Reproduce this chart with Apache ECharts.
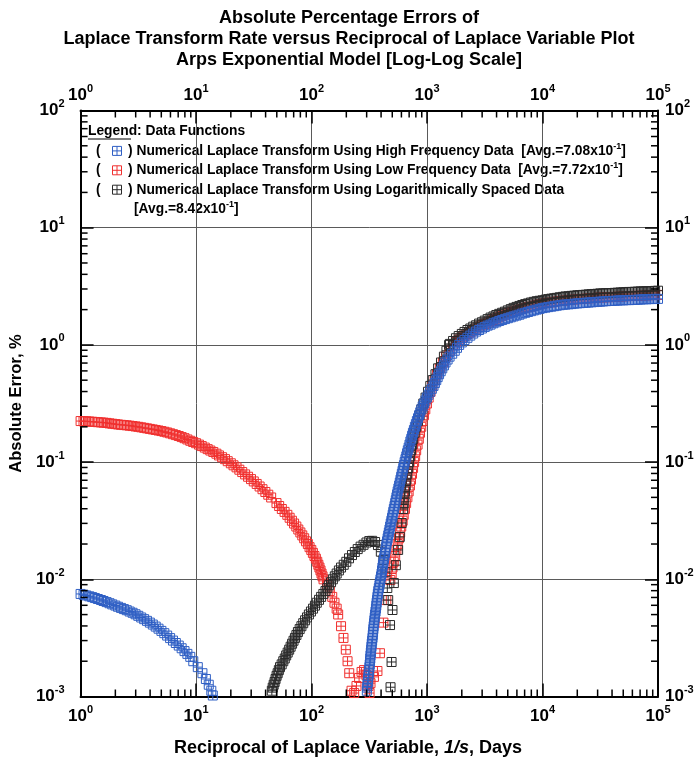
<!DOCTYPE html>
<html>
<head>
<meta charset="utf-8">
<script src="https://cdn.jsdelivr.net/npm/echarts@6/dist/echarts.min.js"></script>
<style>
  html, body { margin: 0; padding: 0; background: #ffffff; }
  #chart { width: 698px; height: 765px; }
</style>
</head>
<body>
<div id="chart"></div>
<script>
// Numerical Laplace transform rate errors, Arps exponential model.
// x = 1/s (days), y = absolute percentage error (%).

// ---- High frequency data ----
const hfEarlyX = [
  1, 1.06, 1.12, 1.19, 1.26, 1.33, 1.41, 1.50, 1.58, 1.68, 1.78, 1.88, 2.00, 2.11, 2.24, 2.37, 2.51, 2.66, 2.82, 2.99,
  3.16, 3.35, 3.55, 3.76, 3.98, 4.22, 4.47, 4.73, 5.01, 5.31, 5.62, 5.96, 6.31, 6.68, 7.08, 7.50, 7.94, 8.41, 8.91,
  9.46, 10.35, 11.35, 12.16, 12.88, 13.55, 13.96
];
const hfEarlyY = [
  0.00750, 0.00739, 0.00728, 0.00716, 0.00705, 0.00692, 0.00679, 0.00666, 0.00653, 0.00639, 0.00625, 0.00611, 0.00597, 0.00583, 0.00570, 0.00557, 0.00545, 0.00531, 0.00518, 0.00503,
  0.00488, 0.00472, 0.00457, 0.00442, 0.00427, 0.00411, 0.00395, 0.00379, 0.00363, 0.00347, 0.00331, 0.00315, 0.00300, 0.00286, 0.00272, 0.00258, 0.00244, 0.00231, 0.00218,
  0.00200, 0.00178, 0.00158, 0.00141, 0.00126, 0.00112, 0.00102
];
const hfRiseX = [
  301, 303, 305, 307, 309, 311, 313, 315, 317, 319, 321, 322.5, 324, 326, 328, 330, 332, 334.5, 337, 339,
  341, 343, 345, 347.5, 350, 352.5, 355, 358, 361, 363.5, 366, 369, 372, 375, 378, 382.5, 387, 391, 395, 399.5,
  404, 407.5, 411, 415, 419, 423.5, 428, 432.5, 437, 441, 445, 450.5, 456, 461.5, 467, 473, 479, 485, 491, 497.5,
  504, 510, 516, 523, 530, 536.5, 543, 550, 557, 565, 573, 581, 589, 597, 605, 613.5, 622, 631, 640, 650.5,
  661, 671.5, 682, 693.5, 705, 717.5, 730, 742.5, 755, 770, 785, 801, 817, 835, 853, 873, 893, 917, 942, 970,
  998, 1031, 1064, 1101, 1138, 1170, 1202, 1236, 1271, 1313, 1355, 1400, 1445, 1506, 1567, 1652, 1738, 1817, 1897
];
const hfRiseY = [
  0.00112, 0.00119, 0.00126, 0.00133, 0.00141, 0.00150, 0.00158, 0.00168, 0.00178, 0.00188, 0.00200, 0.00211, 0.00224, 0.00237, 0.00251, 0.00266, 0.00282, 0.00299, 0.00316, 0.00335,
  0.00355, 0.00376, 0.00398, 0.00422, 0.00447, 0.00473, 0.00501, 0.00531, 0.00562, 0.00596, 0.00631, 0.00668, 0.00708, 0.00750, 0.00794, 0.00841, 0.00891, 0.00944, 0.0100, 0.0106,
  0.0112, 0.0119, 0.0126, 0.0133, 0.0141, 0.0150, 0.0158, 0.0168, 0.0178, 0.0188, 0.0200, 0.0211, 0.0224, 0.0237, 0.0251, 0.0266, 0.0282, 0.0299, 0.0316, 0.0335,
  0.0355, 0.0376, 0.0398, 0.0422, 0.0447, 0.0473, 0.0501, 0.0531, 0.0562, 0.0596, 0.0631, 0.0668, 0.0708, 0.0750, 0.0794, 0.0841, 0.0891, 0.0944, 0.100, 0.106,
  0.112, 0.119, 0.126, 0.133, 0.141, 0.150, 0.158, 0.168, 0.178, 0.188, 0.200, 0.211, 0.224, 0.237, 0.251, 0.266, 0.282, 0.299, 0.316, 0.335,
  0.355, 0.376, 0.398, 0.422, 0.447, 0.473, 0.501, 0.531, 0.562, 0.596, 0.631, 0.668, 0.708, 0.750, 0.794, 0.841, 0.891, 0.944, 1.00
];
const hfLateX = [
  2000, 2110, 2240, 2370, 2510, 2660, 2820, 2990, 3160, 3350, 3550, 3760, 3980, 4220, 4470, 4730, 5010, 5310, 5620, 5960,
  6310, 6680, 7080, 7500, 7940, 8410, 8910, 9440, 10000, 10600, 11200, 11900, 12600, 13300, 14100, 15000, 15800, 16800, 17800, 18800,
  20000, 21100, 22400, 23700, 25100, 26600, 28200, 29900, 31600, 33500, 35500, 37600, 39800, 42200, 44700, 47300, 50100, 53100, 56200, 59600,
  63100, 66800, 70800, 75000, 79400, 84100, 89100, 94400, 100000
];
const hfLateY = [
  1.05, 1.10, 1.15, 1.20, 1.25, 1.30, 1.34, 1.38, 1.42, 1.46, 1.49, 1.53, 1.56, 1.60, 1.63, 1.66, 1.69, 1.72, 1.75, 1.78,
  1.81, 1.85, 1.88, 1.91, 1.94, 1.97, 2.00, 2.03, 2.06, 2.08, 2.10, 2.12, 2.14, 2.16, 2.18, 2.20, 2.21, 2.22, 2.23, 2.25,
  2.26, 2.27, 2.28, 2.29, 2.30, 2.31, 2.32, 2.33, 2.34, 2.35, 2.36, 2.37, 2.37, 2.38, 2.39, 2.40, 2.40, 2.41, 2.41, 2.42,
  2.42, 2.43, 2.44, 2.45, 2.45, 2.46, 2.46, 2.47, 2.47
];

// ---- Low frequency data ----
const lfEarlyX = [
  1, 1.06, 1.12, 1.19, 1.26, 1.33, 1.41, 1.50, 1.58, 1.68, 1.78, 1.88, 2.00, 2.11, 2.24, 2.37, 2.51, 2.66, 2.82, 2.99,
  3.16, 3.35, 3.55, 3.76, 3.98, 4.22, 4.47, 4.73, 5.01, 5.31, 5.62, 5.96, 6.31, 6.68, 7.08, 7.50, 7.94, 8.41, 8.91, 9.44,
  10, 10.6, 11.2, 11.9, 12.6, 13.3, 14.1, 15.0, 15.8, 16.8, 17.8, 18.8, 20, 21.1, 22.4, 23.7, 25.1, 26.6, 28.2, 29.9,
  31.6, 33.5, 35.5, 37.6, 39.8, 42.2, 44.7
];
const lfEarlyY = [
  0.224, 0.223, 0.223, 0.222, 0.221, 0.220, 0.219, 0.218, 0.217, 0.216, 0.214, 0.2125, 0.211, 0.2095, 0.208, 0.207, 0.206, 0.2045, 0.203, 0.2015,
  0.200, 0.198, 0.196, 0.194, 0.192, 0.190, 0.188, 0.186, 0.184, 0.1815, 0.179, 0.176, 0.173, 0.170, 0.167, 0.1635, 0.160, 0.156, 0.152, 0.1485,
  0.145, 0.141, 0.137, 0.133, 0.129, 0.1255, 0.122, 0.118, 0.114, 0.110, 0.106, 0.1018, 0.0977, 0.0939, 0.0902, 0.0861, 0.0822, 0.0785, 0.0750, 0.0716,
  0.0684, 0.0651, 0.0619, 0.0587, 0.0556, 0.0527, 0.0499
];
const lfFallX = [
  49.7, 52.4, 55.3, 58.4, 61.7, 64.6, 67.6, 70.6, 73.8, 76.8, 80.0, 83.1, 86.3, 89.5, 92.9, 96.1, 99.5, 102.7, 106, 109,
  112, 114.5, 117, 119.5, 122, 124.5, 127, 136, 144, 151, 158, 165, 170, 180, 189, 198, 205, 212, 222,
  234, 245, 258, 271, 285, 299, 311
];
const lfFallY = [
  0.0447, 0.0422, 0.0398, 0.0376, 0.0355, 0.0335, 0.0316, 0.0299, 0.0282, 0.0266, 0.0251, 0.0237, 0.0224, 0.0211, 0.0200, 0.0188, 0.0178, 0.0168, 0.0158, 0.0150,
  0.0141, 0.0133, 0.0126, 0.0119, 0.0112, 0.0106, 0.0100, 0.00891, 0.00794, 0.00708, 0.00631, 0.00562, 0.00501, 0.00398, 0.00316, 0.00251, 0.00200, 0.00158, 0.00112,
  0.00107, 0.00123, 0.00144, 0.00162, 0.00168, 0.00152, 0.00123
];
const lfRiseX = [
  318, 324, 347, 372, 391, 419, 444, 481,
  494, 502, 515, 530, 543, 557, 571, 585, 598, 615, 628, 644, 659, 676, 693, 711, 726, 741, 757, 773, 789, 805,
  828, 849, 869, 891, 914, 940, 966, 998, 1033, 1072, 1112, 1164, 1222, 1291, 1371, 1459, 1560, 1675
];
const lfRiseY = [
  0.00107, 0.00130, 0.00147, 0.00165, 0.00234, 0.00427, 0.00665, 0.00986,
  0.0112, 0.0126, 0.0141, 0.0158, 0.0178, 0.0200, 0.0224, 0.0251, 0.0282, 0.0316, 0.0355, 0.0398, 0.0447, 0.0501, 0.0562, 0.0631, 0.0708, 0.0794, 0.0891, 0.100, 0.112, 0.126,
  0.141, 0.158, 0.178, 0.200, 0.224, 0.251, 0.282, 0.316, 0.355, 0.398, 0.447, 0.501, 0.562, 0.631, 0.708, 0.794, 0.891, 1.00
];
const lfLateX = [
  1780, 1880, 2000, 2110, 2240, 2370, 2510, 2660, 2820, 2990, 3160, 3350, 3550, 3760, 3980, 4220, 4470, 4730, 5010, 5310,
  5620, 5960, 6310, 6680, 7080, 7500, 7940, 8410, 8910, 9440, 10000, 10600, 11200, 11900, 12600, 13300, 14100, 15000, 15800, 16800,
  17800, 18800, 20000, 21100, 22400, 23700, 25100, 26600, 28200, 29900, 31600, 33500, 35500, 37600, 39800, 42200, 44700, 47300, 50100, 53100,
  56200, 59600, 63100, 66800, 70800, 75000, 79400, 84100, 89100, 94400, 100000
];
const lfLateY = [
  1.06, 1.11, 1.16, 1.20, 1.24, 1.28, 1.33, 1.38, 1.43, 1.47, 1.51, 1.55, 1.59, 1.63, 1.68, 1.72, 1.77, 1.81, 1.86, 1.89,
  1.93, 1.96, 2.00, 2.03, 2.07, 2.10, 2.12, 2.16, 2.20, 2.22, 2.25, 2.27, 2.29, 2.30, 2.32, 2.35, 2.37, 2.38, 2.39, 2.41,
  2.42, 2.44, 2.45, 2.46, 2.47, 2.48, 2.50, 2.50, 2.51, 2.53, 2.54, 2.54, 2.55, 2.55, 2.56, 2.57, 2.58, 2.58, 2.59, 2.60,
  2.61, 2.61, 2.62, 2.62, 2.63, 2.63, 2.64, 2.65, 2.66, 2.66, 2.67
];

// ---- Logarithmically spaced data ----
const lsEarlyX = [
  45.3, 46.1, 47.0, 47.9, 48.8, 49.8, 50.9, 52.1, 53.3, 55.1, 56.9, 58.6, 60.3, 62.1, 64.0, 65.9, 67.8, 69.8, 71.8, 74.0,
  76.2, 78.9, 81.7, 84.7, 87.9, 91.3, 94.8, 98.8, 103, 107, 111, 116, 121, 126.5, 132, 137, 142, 147.5, 153, 159,
  165, 172.5, 180, 190, 200, 211, 224, 237, 251, 266, 282, 299, 316, 335, 355, 376, 398
];
const lsEarlyY = [
  0.00112, 0.00119, 0.00126, 0.00133, 0.00141, 0.00150, 0.00158, 0.00168, 0.00178, 0.00188, 0.00200, 0.00211, 0.00224, 0.00237, 0.00251, 0.00266, 0.00282, 0.00299, 0.00316, 0.00335,
  0.00355, 0.00376, 0.00398, 0.00422, 0.00447, 0.00473, 0.00501, 0.00531, 0.00562, 0.00596, 0.00631, 0.00668, 0.00708, 0.00750, 0.00794, 0.00841, 0.00891, 0.00944, 0.0100, 0.0106,
  0.0112, 0.0119, 0.0126, 0.0133, 0.0141, 0.0151, 0.0161, 0.0171, 0.0181, 0.0190, 0.0197, 0.0206, 0.0212, 0.0213, 0.0208, 0.0196, 0.0172
];
const lsDipX = [419, 436, 453, 461, 478, 483, 493, 502, 516, 537, 562, 581, 603, 621];
const lsDipY = [0.0146, 0.0115, 0.00843, 0.00665, 0.00407, 0.00120, 0.00197, 0.00547, 0.00929, 0.0132, 0.0178, 0.0230, 0.0302, 0.0398];
const lsRiseX = [
  628, 637, 644, 653, 661, 673, 686, 697, 710, 726, 743, 759, 782, 805, 834, 861, 893, 929, 971, 1019,
  1067, 1122, 1183, 1247, 1321, 1400, 1472, 1552
];
const lsRiseY = [
  0.0447, 0.0501, 0.0562, 0.0631, 0.0708, 0.0794, 0.0891, 0.100, 0.112, 0.126, 0.141, 0.158, 0.178, 0.200, 0.224, 0.251, 0.282, 0.316, 0.355, 0.398,
  0.447, 0.501, 0.562, 0.631, 0.708, 0.794, 0.891, 1.00
];
const lsLateX = [
  1580, 1680, 1780, 1880, 2000, 2110, 2240, 2370, 2510, 2660, 2820, 2990, 3160, 3350, 3550, 3760, 3980, 4220, 4470, 4730,
  5010, 5310, 5620, 5960, 6310, 6680, 7080, 7500, 7940, 8410, 8910, 9440, 10000, 10600, 11200, 11900, 12600, 13300, 14100, 15000,
  15800, 16800, 17800, 18800, 20000, 21100, 22400, 23700, 25100, 26600, 28200, 29900, 31600, 33500, 35500, 37600, 39800, 42200, 44700, 47300,
  50100, 53100, 56200, 59600, 63100, 66800, 70800, 75000, 79400, 84100, 89100, 94400, 100000
];
const lsLateY = [
  1.02, 1.08, 1.14, 1.19, 1.24, 1.29, 1.34, 1.38, 1.43, 1.47, 1.52, 1.56, 1.61, 1.66, 1.71, 1.75, 1.80, 1.84, 1.88, 1.92,
  1.97, 2.02, 2.07, 2.11, 2.15, 2.19, 2.23, 2.26, 2.30, 2.33, 2.36, 2.38, 2.40, 2.43, 2.46, 2.48, 2.50, 2.52, 2.55, 2.57,
  2.59, 2.60, 2.62, 2.63, 2.65, 2.66, 2.67, 2.68, 2.70, 2.71, 2.72, 2.73, 2.75, 2.75, 2.76, 2.76, 2.77, 2.78, 2.79, 2.80,
  2.81, 2.82, 2.83, 2.83, 2.84, 2.85, 2.86, 2.86, 2.87, 2.87, 2.88, 2.89, 2.90
];

// Minor tick positions between the decades
const xMinorTicks = [
  2, 3, 4, 5, 6, 7, 8, 9,
  20, 30, 40, 50, 60, 70, 80, 90,
  200, 300, 400, 500, 600, 700, 800, 900,
  2000, 3000, 4000, 5000, 6000, 7000, 8000, 9000,
  20000, 30000, 40000, 50000, 60000, 70000, 80000, 90000
];
const yMinorTicks = [
  0.002, 0.003, 0.004, 0.005, 0.006, 0.007, 0.008, 0.009,
  0.02, 0.03, 0.04, 0.05, 0.06, 0.07, 0.08, 0.09,
  0.2, 0.3, 0.4, 0.5, 0.6, 0.7, 0.8, 0.9,
  2, 3, 4, 5, 6, 7, 8, 9,
  20, 30, 40, 50, 60, 70, 80, 90
];

const X_MIN = 1, X_MAX = 1e5, Y_MIN = 0.001, Y_MAX = 100;
const FONT = '"Liberation Sans", Arial, Helvetica, sans-serif';

const BLUE = '#2f5fc4';
const RED = '#f0302f';
const BLACK = '#2a2a2a';

const markerPath = 'path://M0,0H10V10H0Z M5,0V10 M0,5H10';

function zip(xs, ys) { return xs.map((x, i) => [x, ys[i]]); }

const powRich = {
  b: { fontFamily: FONT, fontSize: 17, fontWeight: 'bold', color: '#000', lineHeight: 24 },
  s: { fontFamily: FONT, fontSize: 11, fontWeight: 'bold', color: '#000', lineHeight: 12, verticalAlign: 'top' }
};
function powLabel(v) {
  const e = Math.round(Math.log10(v));
  return '{b|10}{s|' + e + '}';
}

function logAxis(isX, position, primary, margin) {
  return {
    type: 'log',
    logBase: 10,
    position: position,
    min: isX ? X_MIN : Y_MIN,
    max: isX ? X_MAX : Y_MAX,
    splitNumber: 5,
    axisLine: { show: true, onZero: false, lineStyle: { color: '#000', width: 2 } },
    axisTick: { show: true, inside: true, length: 13, lineStyle: { color: '#000', width: 1.5 } },
    minorTick: { show: false },
    splitLine: { show: primary, lineStyle: { color: '#5a5a5a', width: 1 } },
    axisLabel: { show: true, margin: margin, formatter: powLabel, rich: powRich, showMinLabel: true, showMaxLabel: true, hideOverlap: false }
  };
}

function scatterSeries(name, segments, color, z) {
  let data = [];
  segments.forEach(seg => { data = data.concat(zip(seg[0], seg[1])); });
  return {
    name: name,
    type: 'scatter',
    xAxisIndex: 0,
    yAxisIndex: 0,
    data: data,
    symbol: markerPath,
    symbolSize: 9,
    z: z,
    itemStyle: { color: 'rgba(0,0,0,0)', borderColor: color, borderWidth: 1, opacity: 1 },
    emphasis: { disabled: true },
    animation: false
  };
}

// Minor ticks drawn inward on both opposite axes through the axis scales
function minorTickSeries(isX) {
  const ticks = isX ? xMinorTicks : yMinorTicks;
  return {
    type: 'custom',
    xAxisIndex: 0,
    yAxisIndex: 0,
    z: 20,
    silent: true,
    animation: false,
    data: ticks.map(v => isX ? [v, Y_MIN] : [X_MIN, v]),
    renderItem: function (params, api) {
      const len = 7;
      const st = { stroke: '#000', lineWidth: 1.5 };
      if (isX) {
        const v = api.value(0);
        const b = api.coord([v, Y_MIN]);
        const t = api.coord([v, Y_MAX]);
        return { type: 'group', children: [
          { type: 'line', shape: { x1: b[0], y1: b[1], x2: b[0], y2: b[1] - len }, style: st },
          { type: 'line', shape: { x1: t[0], y1: t[1], x2: t[0], y2: t[1] + len }, style: st }
        ] };
      }
      const v = api.value(1);
      const l = api.coord([X_MIN, v]);
      const r = api.coord([X_MAX, v]);
      return { type: 'group', children: [
        { type: 'line', shape: { x1: l[0], y1: l[1], x2: l[0] + len, y2: l[1] }, style: st },
        { type: 'line', shape: { x1: r[0], y1: r[1], x2: r[0] - len, y2: r[1] }, style: st }
      ] };
    }
  };
}

// Legend box content
const legendRows = [
  { color: BLUE, text: 'Numerical Laplace Transform Using High Frequency Data  [Avg.=7.08x10', exp: '-1', tail: ']' },
  { color: RED, text: 'Numerical Laplace Transform Using Low Frequency Data  [Avg.=7.72x10', exp: '-1', tail: ']' },
  { color: BLACK, text: 'Numerical Laplace Transform Using Logarithmically Spaced Data', exp: '', tail: '' }
];
const legendTextRich = {
  t: { fontFamily: FONT, fontSize: 13.8, fontWeight: 'bold', color: '#000', lineHeight: 18 },
  s: { fontFamily: FONT, fontSize: 9, fontWeight: 'bold', color: '#000', lineHeight: 10, verticalAlign: 'top' }
};

function legendGraphics() {
  const els = [];
  const x0 = 88, yHead = 131.5, dy = 19.4;
  els.push({ type: 'text', x: x0, y: yHead, style: { text: '{t|Legend: Data Functions}', rich: legendTextRich, textVerticalAlign: 'middle' } });
  els.push({ type: 'line', shape: { x1: x0, y1: yHead + 7.5, x2: x0 + 43, y2: yHead + 7.5 }, style: { stroke: '#000', lineWidth: 1 } });
  legendRows.forEach((row, i) => {
    const y = yHead + dy * (i + 1);
    els.push({ type: 'text', x: 96, y: y, style: { text: '{t|(}', rich: legendTextRich, textVerticalAlign: 'middle' } });
    const sx = 112.5, sy = y - 4.5;
    els.push({ type: 'rect', shape: { x: sx, y: sy, width: 9, height: 9 }, style: { fill: 'none', stroke: row.color, lineWidth: 1 } });
    els.push({ type: 'line', shape: { x1: sx + 4.5, y1: sy, x2: sx + 4.5, y2: sy + 9 }, style: { stroke: row.color, lineWidth: 1 } });
    els.push({ type: 'line', shape: { x1: sx, y1: sy + 4.5, x2: sx + 9, y2: sy + 4.5 }, style: { stroke: row.color, lineWidth: 1 } });
    let txt = '{t|) ' + row.text + '}';
    if (row.exp) txt += '{s|' + row.exp + '}{t|' + row.tail + '}';
    els.push({ type: 'text', x: 128, y: y, style: { text: txt, rich: legendTextRich, textVerticalAlign: 'middle' } });
  });
  els.push({ type: 'text', x: 134, y: yHead + dy * 4, style: { text: '{t|[Avg.=8.42x10}{s|-1}{t|]}', rich: legendTextRich, textVerticalAlign: 'middle' } });
  return els;
}

const chart = echarts.init(document.getElementById('chart'), null, { renderer: 'canvas' });

const xBottom = logAxis(true, 'bottom', true, 8);
const xTop = logAxis(true, 'top', false, 3);
const yLeft = logAxis(false, 'left', true, 16);
const yRight = logAxis(false, 'right', false, 7);
yLeft.name = 'Absolute Error, %';
yLeft.nameLocation = 'middle';
yLeft.nameGap = 53;
yLeft.nameRotate = 90;
yLeft.nameTextStyle = { fontFamily: FONT, fontSize: 16.5, fontWeight: 'bold', color: '#000' };

chart.setOption({
  backgroundColor: '#ffffff',
  animation: false,
  title: {
    text: 'Absolute Percentage Errors of\nLaplace Transform Rate versus Reciprocal of Laplace Variable Plot\nArps Exponential Model [Log-Log Scale]',
    left: 'center',
    top: 3,
    textStyle: { fontFamily: FONT, fontSize: 18, fontWeight: 'bold', color: '#000', lineHeight: 21 }
  },
  grid: { left: 74, right: 40, top: 110.5, bottom: 68.5, containLabel: false },
  xAxis: [xBottom, xTop],
  yAxis: [yLeft, yRight],
  series: [
    scatterSeries('Low Frequency', [[lfEarlyX, lfEarlyY], [lfFallX, lfFallY], [lfRiseX, lfRiseY], [lfLateX, lfLateY]], RED, 3),
    scatterSeries('Logarithmically Spaced', [[lsEarlyX, lsEarlyY], [lsDipX, lsDipY], [lsRiseX, lsRiseY], [lsLateX, lsLateY]], BLACK, 4),
    scatterSeries('High Frequency', [[hfEarlyX, hfEarlyY], [hfRiseX, hfRiseY], [hfLateX, hfLateY]], BLUE, 5),
    minorTickSeries(true),
    minorTickSeries(false)
  ],
  graphic: legendGraphics().concat([
    {
      type: 'text', x: 348, y: 748,
      style: {
        text: '{n|Reciprocal of Laplace Variable, }{i|1/s}{n|, Days}',
        rich: {
          n: { fontFamily: FONT, fontSize: 18, fontWeight: 'bold', color: '#000' },
          i: { fontFamily: FONT, fontSize: 18, fontWeight: 'bold', fontStyle: 'italic', color: '#000' }
        },
        textAlign: 'center', textVerticalAlign: 'middle'
      }
    }
  ])
});
</script>
</body>
</html>
